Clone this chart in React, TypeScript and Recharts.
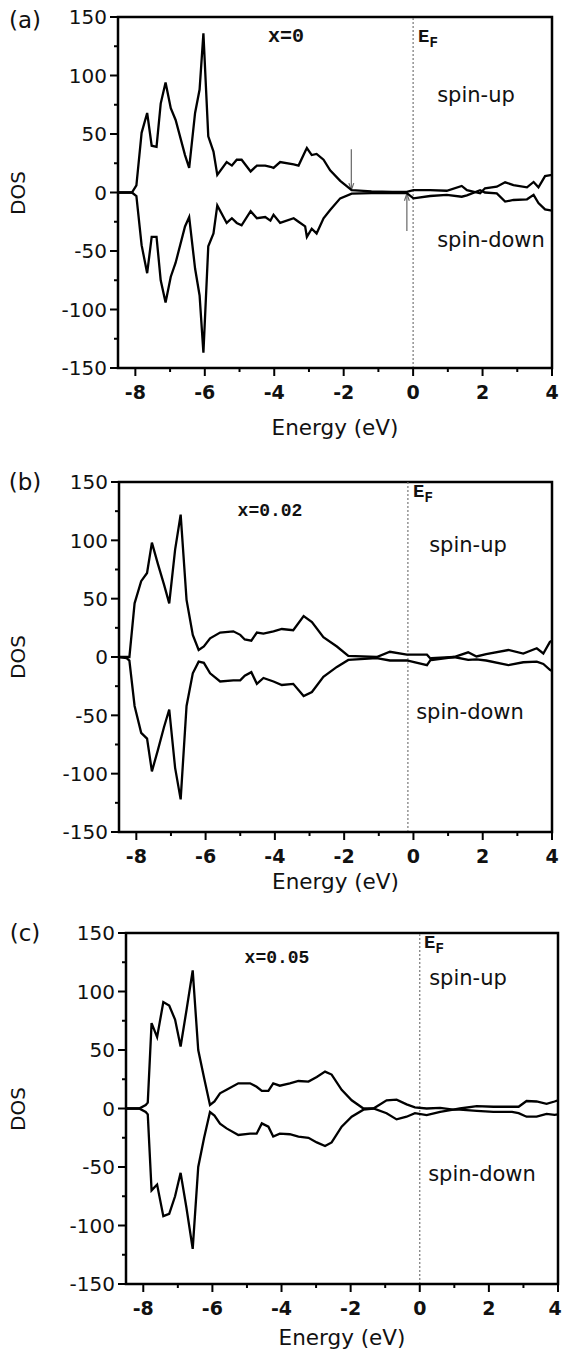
import React from 'react';
import { LineChart, Line, XAxis, YAxis, ReferenceLine, ReferenceArea } from 'recharts';

// energies (eV) and DOS
const E_A = [-8.5, -8.1, -7.97, -7.82, -7.66, -7.53, -7.39, -7.27, -7.13, -6.98, -6.84, -6.57, -6.45, -6.28, -6.15, -6.04, -5.9, -5.75, -5.64, -5.37, -5.22, -5.08, -4.94, -4.68, -4.5, -4.26, -4.11, -4.02, -3.83, -3.44, -3.3, -3.11, -3.06, -2.92, -2.78, -2.58, -2.39, -2.1, -1.77, -1.2, -0.6, -0.18, 0.01, 0.49, 0.97, 1.4, 1.55, 1.93, 2.07, 2.41, 2.65, 2.89, 3.28, 3.47, 3.61, 3.8, 4.0];
const UP_A = [0, 0, 6, 51, 68, 40, 39, 76, 94, 72, 62, 32, 21, 68, 88, 136, 48, 35, 15, 26, 23, 28, 28, 18, 23, 23, 22, 21, 26, 24, 23, 35, 38, 32, 33, 28, 19, 10, 2, 1, 0.5, 0.5, 2, 2, 1.5, 5.6, 2, -0.7, 3.6, 5, 8.7, 6.4, 4.4, 9, 4.4, 14, 15];
const DOWN_A = [0, 0, -3, -45, -69, -38, -38, -75, -94, -72, -60, -29, -21, -65, -88, -137, -46, -35, -11, -26, -22, -26, -28, -16, -22, -21, -24, -19, -26, -22, -25, -29, -38, -31, -35, -22, -15, -5, -1, -0.5, -0.5, -0.5, -5, -3, -2, -3.6, -2.5, 2, 0, -0.7, -7.8, -6.4, -5.8, -2, -9, -14.4, -15.5];

const E_B = [-8.5, -8.28, -8.2, -8.05, -7.86, -7.69, -7.55, -7.38, -7.2, -7.05, -6.88, -6.72, -6.55, -6.37, -6.2, -6.05, -5.87, -5.58, -5.2, -5.0, -4.87, -4.68, -4.52, -4.33, -4.04, -3.8, -3.47, -3.17, -2.93, -2.6, -2.21, -1.88, -1.06, -0.68, -0.19, 0.39, 0.53, 1.17, 1.58, 1.82, 2.1, 2.74, 3.17, 3.56, 3.75, 3.94, 4.0];
const UP_B = [0, 0, 0, 46, 65, 72, 98, 80, 62, 46, 92, 122, 49, 19, 6, 9, 16, 21, 22, 19, 15, 14, 21, 20, 22, 24, 23, 35, 30, 17, 9, 1, 0, 4.5, 2, 2, -2.5, 0, 4, 0.5, 2.5, 6, 3, 7.5, 3, 13, 14];
const DOWN_B = [0, -1, -3, -42, -65, -70, -98, -80, -60, -45, -95, -122, -42, -14, -4, -5, -14, -21, -20, -20, -16, -13, -23, -18, -21, -24, -23, -33.5, -30, -17, -8.5, -2.5, -1, -3, -3, -7, -1, 0, -2.5, -2, -3, -7, -4.5, -4, -6, -11, -12];

const E_C = [-8.5, -8.12, -7.93, -7.87, -7.76, -7.6, -7.42, -7.25, -7.08, -6.92, -6.75, -6.57, -6.41, -6.24, -6.07, -5.94, -5.78, -5.59, -5.25, -4.91, -4.72, -4.57, -4.38, -4.24, -4.05, -3.76, -3.51, -3.22, -2.98, -2.74, -2.55, -2.26, -1.97, -1.63, -1.34, -0.96, -0.67, -0.38, -0.14, 0.2, 0.59, 0.97, 1.16, 1.65, 2.13, 2.67, 2.86, 3.09, 3.38, 3.67, 3.9, 4.0];
const UP_C = [0, 0, 3, 5, 73, 61, 91, 88, 76, 53, 84, 118, 50, 26, 3, 6, 13, 16, 21.5, 21.5, 18.6, 15, 15, 21.5, 19.5, 21.5, 23.5, 23, 27, 31.5, 29, 16, 7, 0, 0, 7, 7.5, 3.5, 1, 0, 0.5, -1, 0, 2, 1.5, 1.5, 1.5, 6.4, 6, 4, 6, 7];
const DOWN_C = [0, 0, -3, -5, -70, -65, -92, -90, -75, -55, -85, -120, -50, -25, -3, -6, -13, -17, -22.6, -21.5, -21.5, -12.7, -15.5, -24, -21.5, -22, -24, -25, -29, -32, -29, -15.5, -7, -1, 0, -4, -9.3, -7, -4, -5.6, -2.8, -1, -1, -2, -2.8, -2.8, -4, -7, -7, -4.6, -5.5, -5];

const X_TICKS = [-8, -7, -6, -5, -4, -3, -2, -1, 0, 1, 2, 3, 4];
const Y_TICKS = [-150, -125, -100, -75, -50, -25, 0, 25, 50, 75, 100, 125, 150];

const SANS = '"DejaVu Sans", sans-serif';
const MONO = '"Liberation Mono", "DejaVu Sans Mono", monospace';

const panels = [
  {
    E: E_A, up: UP_A, down: DOWN_A, L: 118, R: 552, T: 17, B: 368, ef: 0,
    tag: '(a)', tagY: 20, conc: 'x=0', concX: 286, concY: 37, efX: 418, efY: 39,
    upX: 476, upY: 95, downX: 491, downY: 240, energyY: 428, arrows: true,
  },
  {
    E: E_B, up: UP_B, down: DOWN_B, L: 119, R: 552, T: 482, B: 832, ef: -0.16,
    tag: '(b)', tagY: 482, conc: 'x=0.02', concX: 270, concY: 511, efX: 413, efY: 494,
    upX: 468, upY: 545, downX: 470, downY: 712, energyY: 882, arrows: false,
  },
  {
    E: E_C, up: UP_C, down: DOWN_C, L: 126, R: 558, T: 933, B: 1284, ef: 0,
    tag: '(c)', tagY: 933, conc: 'x=0.05', concX: 277, concY: 958, efX: 424, efY: 945,
    upX: 468, upY: 978, downX: 482, downY: 1174, energyY: 1338, arrows: false,
  },
];

// little gray arrows in panel (a): [x, yFrom, yTo]
const ARROWS_A = [
  [-1.78, 37, 2],
  [-0.18, -33, -1],
];

const YTick = (props: any) => {
  const { x, y, payload } = props;
  const major = payload.value % 50 === 0;
  return (
    <g>
      <line x1={x} x2={x - (major ? 8 : 4)} y1={y} y2={y} stroke="#000" strokeWidth={2} />
      {major && (
        <text x={x - 11} y={y} dy="0.36em" textAnchor="end" fontFamily={SANS} fontSize={20} fill="#111">
          {payload.value}
        </text>
      )}
    </g>
  );
};

const XTick = (props: any) => {
  const { x, y, payload } = props;
  const major = payload.value % 2 === 0;
  // keep the last label inside the page
  const tx = Math.min(x, 555);
  return (
    <g>
      <line x1={x} x2={x} y1={y} y2={y + (major ? 8 : 4)} stroke="#000" strokeWidth={2} />
      {major && (
        <text x={tx} y={y + 24} dy="0.36em" textAnchor="middle" fontFamily={SANS} fontWeight="bold" fontSize={19} fill="#111">
          {payload.value}
        </text>
      )}
    </g>
  );
};

const Txt = ({ x, y, children, style }: any) => (
  <div
    style={{
      position: 'absolute', left: x, top: y, transform: 'translate(-50%, -50%)',
      whiteSpace: 'nowrap', lineHeight: 1, color: '#111', fontFamily: SANS, fontSize: 21, ...style,
    }}
  >
    {children}
  </div>
);

const Panel = ({ p }: any) => {
  const data = p.E.map((e: number, i: number) => ({ e, up: p.up[i], down: p.down[i] }));
  const top = p.T - 25;
  const h = p.B - p.T + 95;
  return (
    <div style={{ position: 'absolute', left: 0, top, width: 562, height: h }}>
      <LineChart
        width={562}
        height={h}
        data={data}
        margin={{ top: 25, right: 562 - p.R, left: p.L - 60, bottom: 40 }}
      >
        <ReferenceArea x1={-8.5} x2={4} y1={-150} y2={150} fill="none" stroke="#000" strokeWidth={2.5} ifOverflow="visible" />
        <XAxis
          type="number" dataKey="e" domain={[-8.5, 4]} ticks={X_TICKS} interval={0}
          tickSize={0} tickMargin={0} tick={(t: any) => <XTick {...t} />}
          axisLine={{ stroke: '#000', strokeWidth: 2 }} height={30} allowDataOverflow
        />
        <YAxis
          type="number" domain={[-150, 150]} ticks={Y_TICKS} interval={0}
          tickSize={0} tickMargin={0} tick={(t: any) => <YTick {...t} />}
          axisLine={{ stroke: '#000', strokeWidth: 2 }} width={60} allowDataOverflow
        />
        <ReferenceLine x={p.ef} stroke="#777" strokeWidth={1.2} strokeDasharray="2 2" />
        {p.arrows &&
          ARROWS_A.map(([ax, y0, y1], i) => {
            const dir = y1 > y0 ? -1 : 1;
            return (
              <React.Fragment key={i}>
                <ReferenceLine segment={[{ x: ax, y: y0 }, { x: ax, y: y1 }]} stroke="#666" strokeWidth={1.2} ifOverflow="visible" />
                <ReferenceLine segment={[{ x: ax, y: y1 }, { x: ax - 0.07, y: y1 + dir * 6 }]} stroke="#666" strokeWidth={1.2} />
                <ReferenceLine segment={[{ x: ax, y: y1 }, { x: ax + 0.07, y: y1 + dir * 6 }]} stroke="#666" strokeWidth={1.2} />
              </React.Fragment>
            );
          })}
        <Line type="linear" dataKey="up" stroke="#000" strokeWidth={2.3} dot={false} isAnimationActive={false} />
        <Line type="linear" dataKey="down" stroke="#000" strokeWidth={2.3} dot={false} isAnimationActive={false} />
      </LineChart>
    </div>
  );
};

export default function App() {
  return (
    <div style={{ position: 'absolute', left: 0, top: 0, width: 562, height: 1356, background: '#fff', overflow: 'hidden' }}>
      {panels.map((p, i) => (
        <React.Fragment key={i}>
          <Panel p={p} />
          <Txt x={25} y={p.tagY} style={{ fontSize: 23 }}>{p.tag}</Txt>
          <Txt x={18} y={(p.T + p.B) / 2} style={{ fontSize: 20, transform: 'translate(-50%, -50%) rotate(-90deg)' }}>DOS</Txt>
          <Txt x={(p.L + p.R) / 2} y={p.energyY} style={{ fontSize: 21.5 }}>Energy (eV)</Txt>
          <Txt x={p.concX} y={p.concY} style={{ fontFamily: MONO, fontWeight: 'bold', fontSize: i === 0 ? 20 : 18 }}>{p.conc}</Txt>
          <Txt x={p.upX} y={p.upY}>spin-up</Txt>
          <Txt x={p.downX} y={p.downY}>spin-down</Txt>
          <div
            style={{
              position: 'absolute', left: p.efX, top: p.efY, transform: 'translateY(-50%)',
              fontFamily: MONO, fontWeight: 'bold', fontSize: 19, lineHeight: 1, color: '#111', whiteSpace: 'nowrap',
            }}
          >
            E<sub style={{ fontSize: 14, verticalAlign: 'sub' }}>F</sub>
          </div>
        </React.Fragment>
      ))}
    </div>
  );
}
